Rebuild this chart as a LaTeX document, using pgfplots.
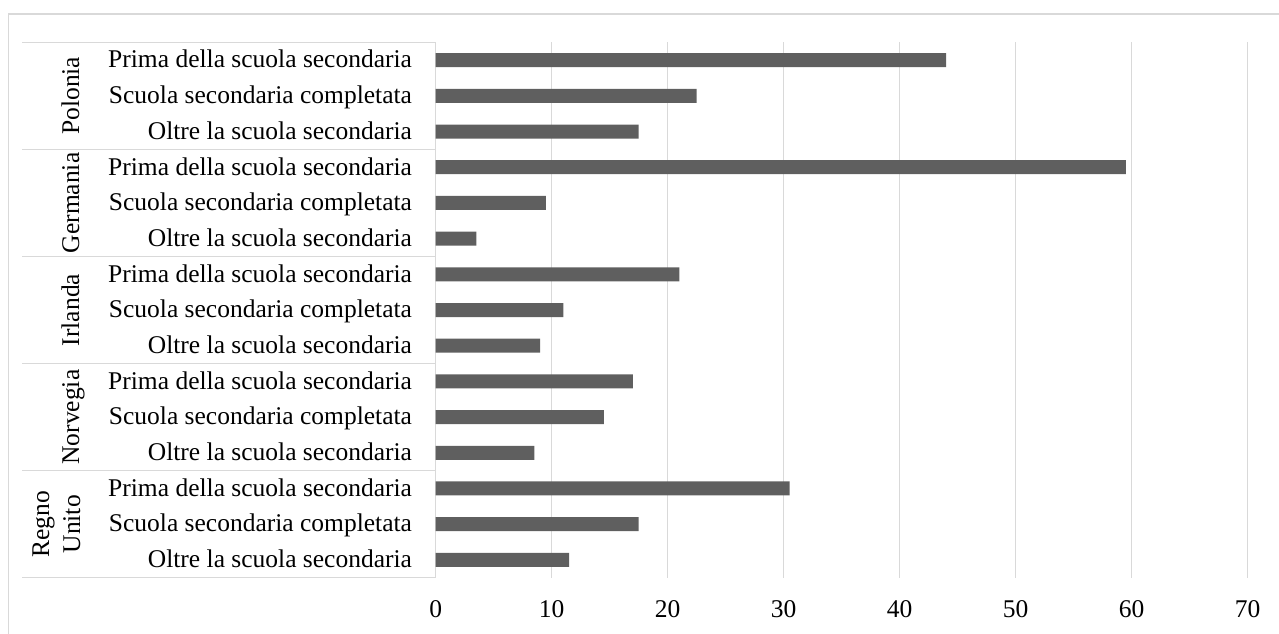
\documentclass[border=0pt]{standalone}
\usepackage{fontspec}
\setmainfont{Liberation Serif}
\usepackage{pgfplots}
\pgfplotsset{compat=1.18}

\definecolor{barfill}{HTML}{5F5F5F}
\definecolor{rulegray}{HTML}{D9D9D9}
\newcommand{\lbl}{\fontsize{25.5}{31}\selectfont}

\begin{document}
\begin{tikzpicture}[x=1pt,y=1pt]
\useasboundingbox (0,0) rectangle (1279,-633);
% chart frame (top and left edges)
\draw[rulegray, line width=1.5pt] (8.7,-640) -- (8.7,-14) -- (1290,-14);

\begin{axis}[
  at={(435.7pt,-577.7pt)}, anchor=south west,
  scale only axis, width=812pt, height=535.4pt,
  xmin=0, xmax=70, xtick={0,10,...,70},
  ymin=0.5, ymax=15.5,
  ytick={1,...,15},
  yticklabels={Oltre la scuola secondaria, Scuola secondaria completata, Prima della scuola secondaria,
               Oltre la scuola secondaria, Scuola secondaria completata, Prima della scuola secondaria,
               Oltre la scuola secondaria, Scuola secondaria completata, Prima della scuola secondaria,
               Oltre la scuola secondaria, Scuola secondaria completata, Prima della scuola secondaria,
               Oltre la scuola secondaria, Scuola secondaria completata, Prima della scuola secondaria},
  xbar, bar width=14pt,
  axis lines*=left,
  x axis line style={draw=none},
  y axis line style={draw=rulegray, line width=1.5pt},
  xmajorgrids, grid style={draw=rulegray, line width=1.5pt},
  major tick length=0pt,
  tick label style={font=\lbl, text=black},
  /pgf/number format/assume math mode=true,
  xticklabel style={anchor=base, inner sep=0pt, yshift=-39.3pt},
  yticklabel style={anchor=base east, inner sep=0pt, xshift=-23.5pt, yshift=-7.8pt},
  clip=false,
]
\addplot[fill=barfill, draw=none] coordinates {
  (11.5,1) (17.5,2) (30.5,3)   % Regno Unito
  (8.5,4)  (14.5,5) (17,6)     % Norvegia
  (9,7)    (11,8)   (21,9)     % Irlanda
  (3.5,10) (9.5,11) (59.5,12)  % Germania
  (17.5,13) (22.5,14) (44,15)  % Polonia
};
\end{axis}

% group separators of the category table
\foreach \yy in {42.3,149.4,256.5,363.5,470.6,577.7}
  \draw[rulegray, line width=1.5pt] (22.3,-\yy) -- (435.7,-\yy);

% group names
\begin{scope}[every node/.style={rotate=90, anchor=base, font=\lbl, text=black, inner sep=0pt}]
  \node at (79,-95.8)  {Polonia};
  \node at (79,-202.9) {Germania};
  \node at (79,-310.0) {Irlanda};
  \node at (79,-417.1) {Norvegia};
  \node at (49,-524.2) {Regno};
  \node at (80,-524.2) {Unito};
\end{scope}
\end{tikzpicture}
\end{document}
